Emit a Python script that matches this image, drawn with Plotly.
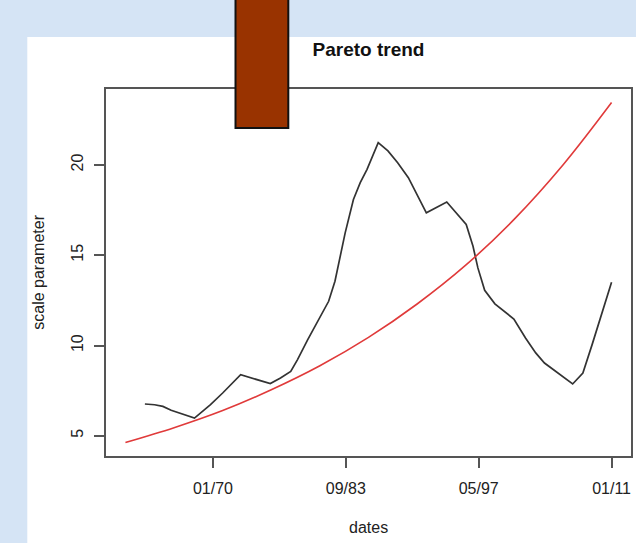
import plotly.graph_objects as go

# Estimated Pareto scale parameter over time (decimal years)
years = [1963.0, 1964.0, 1964.85, 1965.7, 1968.1, 1969.75, 1971.0, 1972.0, 1972.85,
         1975.9, 1976.95, 1978.0, 1978.7, 1979.75, 1981.0, 1981.9, 1982.55, 1983.6,
         1984.45, 1985.15, 1985.85, 1987.0, 1988.0, 1989.0, 1990.1, 1991.1, 1991.95,
         1994.05, 1995.0, 1996.05, 1996.75, 1997.25, 1997.95, 1999.0, 2000.95, 2002.15,
         2003.2, 2004.1, 2007.0, 2008.05, 2009.0, 2011.0]
scale = [6.76, 6.72, 6.63, 6.41, 5.98, 6.72, 7.37, 7.89, 8.38,
         7.89, 8.20, 8.57, 9.22, 10.33, 11.53, 12.45, 13.56, 16.24,
         18.09, 19.02, 19.76, 21.24, 20.78, 20.13, 19.30, 18.28, 17.35,
         17.95, 17.35, 16.71, 15.50, 14.30, 13.06, 12.31, 11.47, 10.42,
         9.59, 9.03, 7.87, 8.48, 10.05, 13.51]

# Fitted trend
trend_years = [1961, 1966, 1971, 1976, 1981, 1986, 1991, 1996, 2001, 2006, 2011]
trend_vals = [4.63, 5.45, 6.40, 7.55, 8.88, 10.45, 12.30, 14.45, 17.00, 20.00, 23.46]

tick_pos = [1970.0, 1983.667, 1997.333, 2011.0]
tick_text = ["01/70", "09/83", "05/97", "01/11"]
y_ticks = [5, 10, 15, 20]

W, H = 636, 543
L, R, T, B = 106, 3, 89, 87
pw, ph = W - L - R, H - T - B

def px(x):
    return (x - L) / pw

def py(y):
    return (H - B - y) / ph

FONT = "Liberation Sans, Arial, Helvetica, sans-serif"
TXT = "#222222"
AX = "#555555"

fig = go.Figure()
fig.add_trace(go.Scatter(x=years, y=scale, mode="lines",
                         line=dict(color="#333333", width=1.7), hoverinfo="skip"))
fig.add_trace(go.Scatter(x=trend_years, y=trend_vals, mode="lines",
                         line=dict(color="#e03a3a", width=1.6, shape="spline"),
                         hoverinfo="skip"))

shapes = [
    # white panel behind the chart
    dict(type="rect", xref="paper", yref="paper", layer="below",
         x0=px(27), x1=px(W + 5), y0=py(H + 5), y1=py(37),
         fillcolor="white", line=dict(width=0)),
    # brown block at the top
    dict(type="rect", xref="paper", yref="paper", layer="above",
         x0=px(236), x1=px(289), y0=py(128), y1=py(-5),
         fillcolor="#993300", line=dict(color="#111111", width=2)),
]

annotations = [
    dict(text="dates", xref="paper", yref="paper", x=0.5, y=py(527),
         xanchor="center", yanchor="middle", showarrow=False,
         font=dict(family=FONT, size=16, color=TXT)),
    dict(text="scale parameter", xref="paper", yref="paper", x=px(38), y=0.5,
         xanchor="center", yanchor="middle", showarrow=False, textangle=-90,
         font=dict(family=FONT, size=16, color=TXT)),
]

fig.update_layout(
    width=W, height=H,
    margin=dict(l=L, r=R, t=T, b=B),
    paper_bgcolor="#d5e4f5",
    plot_bgcolor="white",
    showlegend=False,
    title=dict(text="<b>Pareto trend</b>", x=0.5, xref="paper", y=1 - 49 / H,
               yref="container", xanchor="center", yanchor="middle",
               font=dict(family=FONT, size=19, color="#111111")),
    shapes=shapes,
    annotations=annotations,
    xaxis=dict(range=[1959.0, 2013.0], tickvals=tick_pos, ticktext=tick_text,
               showgrid=False, zeroline=False, showline=True, mirror=True,
               linecolor=AX, linewidth=1.5, ticks="outside", ticklen=10,
               tickcolor=AX, tickwidth=1.5, ticklabelstandoff=7,
               tickfont=dict(family=FONT, size=16, color=TXT)),
    yaxis=dict(range=[3.88, 24.21], tickvals=y_ticks,
               showgrid=False, zeroline=False, showline=True, mirror=True,
               linecolor=AX, linewidth=1.5, ticks="outside", ticklen=10,
               tickcolor=AX, tickwidth=1.5, tickangle=-90, ticklabelstandoff=5,
               tickfont=dict(family=FONT, size=16, color=TXT)),
)

fig.write_html("out.html")
